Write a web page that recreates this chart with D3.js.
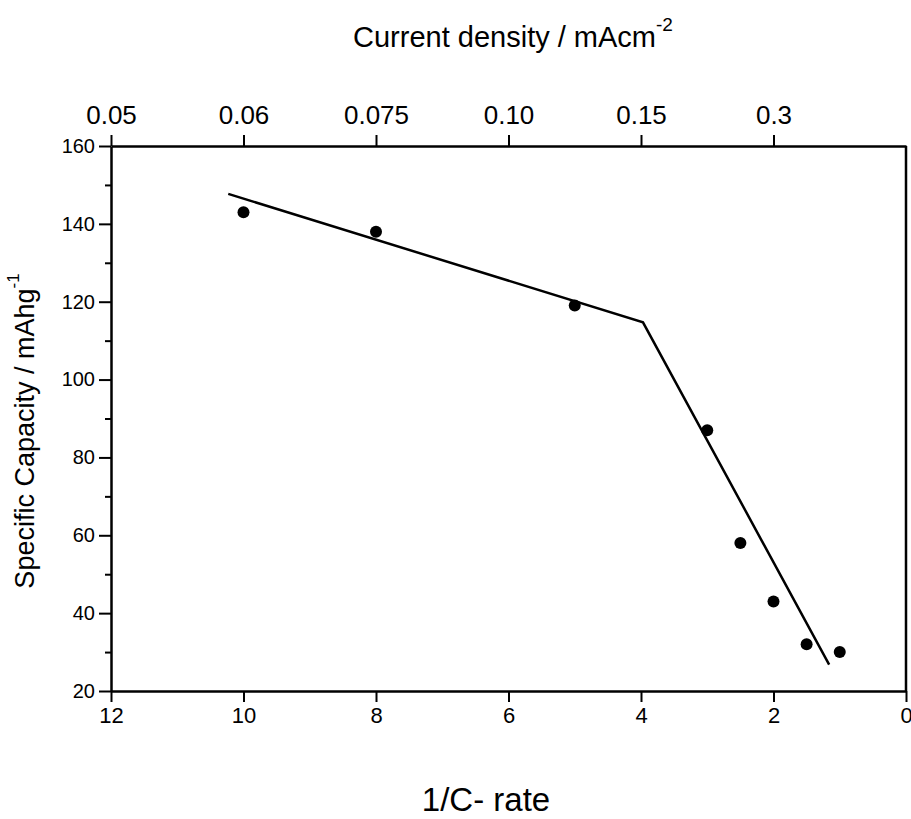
<!DOCTYPE html>
<html>
<head>
<meta charset="utf-8">
<script src="https://cdn.jsdelivr.net/npm/d3@7"></script>
<style>
  body { margin: 0; background: #fff; }
  svg { display: block; }
  text { font-family: "Liberation Sans", Arial, sans-serif; fill: #000; }
</style>
</head>
<body>
<div id="chart"></div>
<script>
// measured points: 1/C-rate vs specific capacity
const rate = [10, 8, 5, 3, 2.5, 2, 1.5, 1];
const capacity = [143, 138, 119, 87, 58, 43, 32, 30];

// the two fitted line segments (start, break, end)
const fitRate = [10.23, 3.97, 1.16];
const fitCapacity = [147.7, 114.7, 26.8];

const bottomTicks = [12, 10, 8, 6, 4, 2, 0];
const topTickRates = [12, 10, 8, 6, 4, 2];
const topTickLabels = ['0.05', '0.06', '0.075', '0.10', '0.15', '0.3'];
const yTicks = [20, 40, 60, 80, 100, 120, 140, 160];
const yMinorTicks = [30, 50, 70, 90, 110, 130, 150];

const width = 911, height = 819;
const margin = {top: 146, right: 5, bottom: 128, left: 111};

const svg = d3.select('#chart').append('svg')
  .attr('width', width).attr('height', height);

const x = d3.scaleLinear().domain([12, 0]).range([margin.left, width - margin.right]);
const y = d3.scaleLinear().domain([20, 160]).range([height - margin.bottom, margin.top]);

const axisStyle = g => {
  g.select('.domain').attr('stroke-width', 2.5);
  g.selectAll('.tick line').attr('stroke-width', 2);
};

// bottom axis
svg.append('g')
  .attr('transform', `translate(0,${y(20)})`)
  .call(d3.axisBottom(x).tickValues(bottomTicks).tickSize(11).tickSizeOuter(0).tickPadding(5))
  .call(axisStyle)
  .call(g => g.selectAll('text').attr('font-size', 22).attr('font-family', null));

// top axis (current density)
svg.append('g')
  .attr('transform', `translate(0,${y(160)})`)
  .call(d3.axisTop(x).tickValues(topTickRates)
    .tickFormat((d, i) => topTickLabels[i]).tickSize(11).tickSizeOuter(0).tickPadding(11))
  .call(axisStyle)
  .call(g => g.selectAll('text').attr('font-size', 26).attr('font-family', null));

// left axis
svg.append('g')
  .attr('transform', `translate(${x(12)},0)`)
  .call(d3.axisLeft(y).tickValues(yTicks).tickSize(12).tickSizeOuter(0).tickPadding(4))
  .call(axisStyle)
  .call(g => g.selectAll('text').attr('font-size', 20).attr('font-family', null));

svg.append('g')
  .attr('transform', `translate(${x(12)},0)`)
  .call(d3.axisLeft(y).tickValues(yMinorTicks).tickSize(6).tickSizeOuter(0).tickFormat(''))
  .call(g => g.select('.domain').remove())
  .call(g => g.selectAll('.tick line').attr('stroke-width', 2));

// right border, no ticks
svg.append('line')
  .attr('x1', x(0)).attr('x2', x(0))
  .attr('y1', y(160)).attr('y2', y(20))
  .attr('stroke', '#000').attr('stroke-width', 2.5);

// fitted lines
const fit = fitRate.map((r, i) => [r, fitCapacity[i]]);
svg.append('path')
  .datum(fit)
  .attr('fill', 'none')
  .attr('stroke', '#000')
  .attr('stroke-width', 2.5)
  .attr('d', d3.line().x(d => x(d[0])).y(d => y(d[1])));

// points
svg.append('g').selectAll('circle')
  .data(rate.map((r, i) => [r, capacity[i]]))
  .join('circle')
  .attr('cx', d => x(d[0])).attr('cy', d => y(d[1]))
  .attr('r', 6).attr('fill', '#000');

// titles
const topTitle = svg.append('text')
  .attr('x', 513).attr('y', 47)
  .attr('text-anchor', 'middle').attr('font-size', 29);
topTitle.append('tspan').text('Current density / mAcm');
topTitle.append('tspan').attr('font-size', 19).attr('dy', -16).text('-2');

svg.append('text')
  .attr('x', 486).attr('y', 811)
  .attr('text-anchor', 'middle').attr('font-size', 33)
  .text('1/C- rate');

const yTitle = svg.append('text')
  .attr('transform', 'translate(34,431) rotate(-90)')
  .attr('text-anchor', 'middle').attr('font-size', 27);
yTitle.append('tspan').text('Specific Capacity / mAhg');
yTitle.append('tspan').attr('font-size', 17).attr('dy', -15).text('-1');
</script>
</body>
</html>
